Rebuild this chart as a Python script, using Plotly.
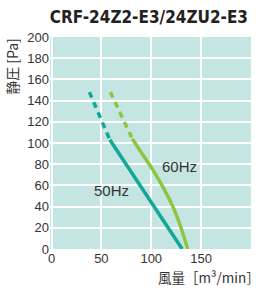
import plotly.graph_objects as go

# 50Hz curve
hz50_dash_x = [38, 58.5]
hz50_dash_y = [148, 103]
hz50_x = [58.5, 91.6, 131]
hz50_y = [103, 56, 0]

# 60Hz curve
hz60_dash_x = [59, 81]
hz60_dash_y = [148, 104]
hz60_x = [81, 88.3, 101.6, 113.3, 121.6, 128.3, 136.6]
hz60_y = [104, 93.5, 74.6, 55.8, 40.2, 24.3, 0]

x_ticks = [0, 50, 100, 150, 200]
y_ticks = [0, 20, 40, 60, 80, 100, 120, 140, 160, 180, 200]

labels = [("50Hz", 60, 55), ("60Hz", 128, 78)]

teal = "#13a797"
green = "#8cc63e"

fig = go.Figure()
fig.add_trace(go.Scatter(x=hz50_dash_x, y=hz50_dash_y, mode="lines",
                         line=dict(color=teal, width=3.5, dash="6px,5px"), hoverinfo="skip"))
fig.add_trace(go.Scatter(x=hz50_x, y=hz50_y, mode="lines",
                         line=dict(color=teal, width=3.5), hoverinfo="skip"))
fig.add_trace(go.Scatter(x=hz60_dash_x, y=hz60_dash_y, mode="lines",
                         line=dict(color=green, width=3.5, dash="6px,5px"), hoverinfo="skip"))
fig.add_trace(go.Scatter(x=hz60_x, y=hz60_y, mode="lines",
                         line=dict(color=green, width=3.5, shape="spline", smoothing=0.6),
                         hoverinfo="skip"))

for txt, lx, ly in labels:
    fig.add_annotation(x=lx, y=ly, text=txt, showarrow=False,
                       font=dict(size=15, color="#333333", family="Liberation Sans, Arial"))

fig.add_annotation(xref="paper", yref="paper", x=-0.19, y=0.863, text="静圧 [Pa]",
                   textangle=-90, showarrow=False, xanchor="center", yanchor="middle",
                   font=dict(size=14, color="#333333", family="Noto Sans CJK JP"))
fig.add_annotation(xref="paper", yref="paper", x=1.055, y=-0.132, text="風量［m³/min］",
                   xanchor="right", yanchor="middle", showarrow=False,
                   font=dict(size=13.5, color="#333333", family="Noto Sans CJK JP"))

fig.update_layout(
    width=259, height=288,
    margin=dict(l=50, r=8, t=37, b=39),
    paper_bgcolor="white",
    plot_bgcolor="#c5e5e2",
    showlegend=False,
    title=dict(text="<b>CRF-24Z2-E3/24ZU2-E3</b>", x=0.575, xanchor="center",
               y=0.941, yanchor="middle",
               font=dict(size=17, color="#222222", family="DejaVu Sans Condensed, Liberation Sans Narrow")),
)
fig.update_xaxes(range=[-1.5, 200], tickvals=x_ticks, showgrid=True, gridcolor="white", gridwidth=2,
                 zeroline=False, showline=False, ticks="",
                 tickfont=dict(size=13, color="#333333", family="Liberation Sans, Arial"))
fig.update_yaxes(range=[0, 200], tickvals=y_ticks, showgrid=True, gridcolor="white", gridwidth=2,
                 zeroline=False, showline=False, ticks="",
                 tickfont=dict(size=13, color="#333333", family="Liberation Sans, Arial"))

fig.write_html("out.html", config={"displayModeBar": False},
               post_script="document.body.style.margin='0';")
